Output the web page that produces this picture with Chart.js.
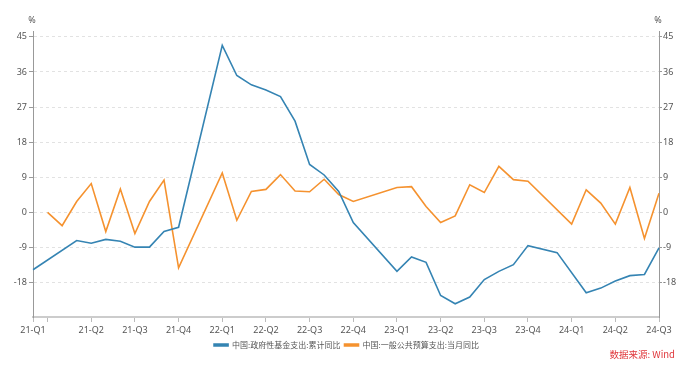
<!DOCTYPE html>
<html>
<head>
<meta charset="utf-8">
<script src="https://cdn.jsdelivr.net/npm/chart.js@4/dist/chart.umd.min.js"></script>
<style>
  html, body { margin: 0; padding: 0; background: #fff; }
  #wrap { position: relative; width: 693px; height: 367px; }
  #src {
    position: absolute; right: 18px; top: 347px;
    font: 9.5px "Noto Sans CJK SC", "Noto Sans", sans-serif; color: #e0383c;
  }
</style>
</head>
<body>
<div id="wrap">
  <canvas id="chart-fund" width="693" height="367"></canvas>
  <div id="src">数据来源: Wind</div>
</div>
<script>
'use strict';

// meses (eje x), de 2020-12 a 2024-07
const meses = [
  '20-12',
  '21-01', '21-02', '21-03', '21-04', '21-05', '21-06', '21-07', '21-08', '21-09', '21-10', '21-11', '21-12',
  '22-01', '22-02', '22-03', '22-04', '22-05', '22-06', '22-07', '22-08', '22-09', '22-10', '22-11', '22-12',
  '23-01', '23-02', '23-03', '23-04', '23-05', '23-06', '23-07', '23-08', '23-09', '23-10', '23-11', '23-12',
  '24-01', '24-02', '24-03', '24-04', '24-05', '24-06', '24-07'
];

// etiquetas de trimestre ('' = solo marca)
const etiquetasTrimestre = {
  '20-12': '21-Q1', '21-01': '',
  '21-04': '21-Q2', '21-07': '21-Q3', '21-10': '21-Q4',
  '22-01': '22-Q1', '22-04': '22-Q2', '22-07': '22-Q3', '22-10': '22-Q4',
  '23-01': '23-Q1', '23-04': '23-Q2', '23-07': '23-Q3', '23-10': '23-Q4',
  '24-01': '24-Q1', '24-04': '24-Q2', '24-07': '24-Q3'
};

// 中国:政府性基金支出:累计同比 (%)
const fondoGobierno = [
  -14.7,
  null, null, -7.2, -7.9, -6.9, -7.4, -8.9, -8.9, -4.9, -3.8, null, null,
  42.8, 35.1, 32.7, 31.4, 29.7, 23.4, 12.3, 9.6, 5.4, -2.6, null, null,
  -15.1, -11.4, -12.8, -21.3, -23.4, -21.7, -17.2, -15.1, -13.4, -8.5, null, -10.3,
  null, -20.6, -19.4, -17.6, -16.2, -15.9, -9.1
];

// 中国:一般公共预算支出:当月同比 (%)
const presupuestoGeneral = [
  null,
  0.0, -3.4, 2.8, 7.4, -4.9, 6.0, -5.4, 2.8, 8.3, -14.2, null, null,
  10.1, -2.0, 5.4, 5.9, 9.7, 5.5, 5.3, 8.5, 4.6, 2.8, null, null,
  6.4, 6.6, 1.5, -2.6, -0.9, 7.1, 5.1, 11.8, 8.4, 8.0, null, null,
  -3.0, 5.8, 2.4, -3.0, 6.4, -6.7, 4.9
];

const ticksY = [-18, -9, 0, 9, 18, 27, 36, 45];

const fuente = '"Noto Sans", "Noto Sans CJK SC", sans-serif';
Chart.defaults.font.family = fuente;
Chart.defaults.font.size = 9;
Chart.defaults.color = '#555';

function fijarTicksY(scale) {
  scale.ticks = ticksY.map(function (v) {
    return { value: v };
  });
}

const pluginUnidades = {
  id: 'unidades',
  afterDraw: function (chart) {
    const ctx = chart.ctx;
    const area = chart.chartArea;
    ctx.save();
    ctx.fillStyle = '#555';
    ctx.font = '9px ' + fuente;
    ctx.textAlign = 'center';
    ctx.textBaseline = 'middle';
    ctx.fillText('%', area.left - 1, 20);
    ctx.fillText('%', area.right - 1, 20);
    ctx.restore();
  }
};

new Chart(document.getElementById('chart-fund').getContext('2d'), {
  type: 'line',
  data: {
    labels: meses,
    datasets: [
      {
        label: '中国:政府性基金支出:累计同比',
        data: fondoGobierno,
        borderColor: '#3584b3',
        backgroundColor: '#3584b3',
        borderWidth: 1.6,
        pointRadius: 0,
        spanGaps: true,
        tension: 0,
        yAxisID: 'y'
      },
      {
        label: '中国:一般公共预算支出:当月同比',
        data: presupuestoGeneral,
        borderColor: '#f5922f',
        backgroundColor: '#f5922f',
        borderWidth: 1.6,
        pointRadius: 0,
        spanGaps: true,
        tension: 0,
        yAxisID: 'y'
      }
    ]
  },
  options: {
    responsive: false,
    animation: false,
    layout: { padding: { top: 31, bottom: 8, left: 0, right: 0 } },
    plugins: {
      tooltip: { enabled: false },
      legend: {
        position: 'bottom',
        labels: {
          boxWidth: 14,
          boxHeight: 2,
          padding: 4,
          color: '#555',
          font: { size: 8, family: '"Noto Sans CJK SC", sans-serif' }
        }
      }
    },
    scales: {
      x: {
        type: 'category',
        offset: false,
        afterFit: function (scale) { scale.height = 20; },
        grid: {
          display: true,
          drawOnChartArea: false,
          tickLength: 5,
          tickColor: '#bbb'
        },
        border: { display: true, color: '#ccc', width: 2 },
        ticks: {
          autoSkip: false,
          maxRotation: 0,
          padding: 3,
          callback: function (value, index) {
            const k = meses[index];
            return k in etiquetasTrimestre ? etiquetasTrimestre[k] : null;
          }
        }
      },
      y: {
        position: 'left',
        min: -26.8,
        max: 46.5,
        afterBuildTicks: fijarTicksY,
        afterFit: function (scale) { scale.width = 33; },
        grid: {
          color: '#e2e2e2',
          tickColor: '#999',
          tickLength: 4
        },
        border: { color: '#999', width: 1, dash: [3, 3] },
        ticks: { padding: 2 }
      },
      y2: {
        position: 'right',
        min: -26.8,
        max: 46.5,
        afterBuildTicks: fijarTicksY,
        afterFit: function (scale) { scale.width = 34; },
        grid: {
          drawOnChartArea: false,
          tickColor: '#999',
          tickLength: 3
        },
        border: { color: '#999', width: 1 },
        ticks: { padding: 1 }
      }
    }
  },
  plugins: [pluginUnidades]
});
</script>
</body>
</html>
